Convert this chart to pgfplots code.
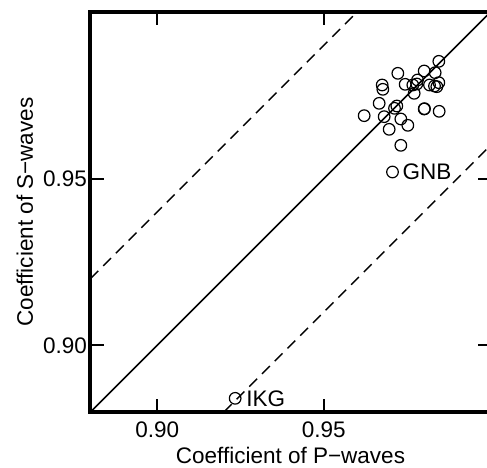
\documentclass[border=0pt]{standalone}
\usepackage{fontspec}
\setmainfont{Liberation Sans}
\usepackage{pgfplots}
\pgfplotsset{compat=1.18}
\begin{document}
\begin{tikzpicture}
\begin{axis}[
  scale only axis, width=400pt, height=400pt,
  xmin=0.88, xmax=1.0, ymin=0.88, ymax=1.0,
  axis line style={line width=4pt},
  xtick={0.90,0.95}, ytick={0.90,0.95},
  tick align=inside, major tick length=13pt,
  every tick/.style={line width=2pt, black},
  /pgf/number format/assume math mode=true,
  /pgf/number format/.cd, fixed, fixed zerofill, precision=2, /pgfplots/.cd,
  tick label style={font=\fontsize{22.5}{27}\selectfont},
  xticklabel style={anchor=base, yshift=-26pt},
  label style={font=\fontsize{22.5}{27}\selectfont},
  xlabel={Coefficient of P−waves},
  ylabel={Coefficient of S−waves},
  xlabel style={at={(axis description cs:0.5,-0.1275)}, anchor=base},
  ylabel style={at={(axis description cs:-0.14375,0.5)}, anchor=base},
  clip=false,
]
\coordinate (SW) at (rel axis cs:0,0);
\addplot[line width=1.5pt] coordinates {(0.88,0.88) (1.0,1.0)};
\addplot[line width=1.5pt, dash pattern=on 11pt off 7pt] coordinates {(0.88,0.92) (0.96,1.0)};
\addplot[line width=1.5pt, dash pattern=on 11pt off 7pt] coordinates {(0.92,0.88) (1.0,0.96)};
\addplot[only marks, mark=o, mark size=5.8pt, mark options={line width=1.2pt}] coordinates {
(0.9845,0.9852)
(0.9722,0.9816)
(0.9801,0.9823)
(0.9834,0.9818)
(0.9675,0.9781)
(0.9677,0.9768)
(0.9744,0.9783)
(0.9781,0.9796)
(0.9767,0.9781)
(0.9779,0.9784)
(0.9771,0.9756)
(0.9817,0.9781)
(0.9832,0.9778)
(0.9845,0.9788)
(0.9839,0.9776)
(0.9666,0.9726)
(0.9719,0.9718)
(0.9712,0.9711)
(0.9621,0.9689)
(0.9681,0.9686)
(0.9731,0.9679)
(0.9801,0.9709)
(0.9802,0.9710)
(0.9846,0.9702)
(0.9696,0.9648)
(0.9752,0.9660)
(0.9731,0.9600)
(0.9706,0.9520)
(0.9234,0.8841)
};
\node[anchor=west, inner sep=0pt, xshift=10pt, font=\fontsize{22.5}{27}\selectfont] at (axis cs:0.9706,0.9520) {GNB};
\node[anchor=west, inner sep=0pt, xshift=11pt, font=\fontsize{22.5}{27}\selectfont] at (axis cs:0.9234,0.8841) {IKG};
\end{axis}
\pgfresetboundingbox
\path ([shift={(-90.5pt,-56pt)}]SW) rectangle ([shift={(396.5pt,412pt)}]SW);
\end{tikzpicture}
\end{document}
